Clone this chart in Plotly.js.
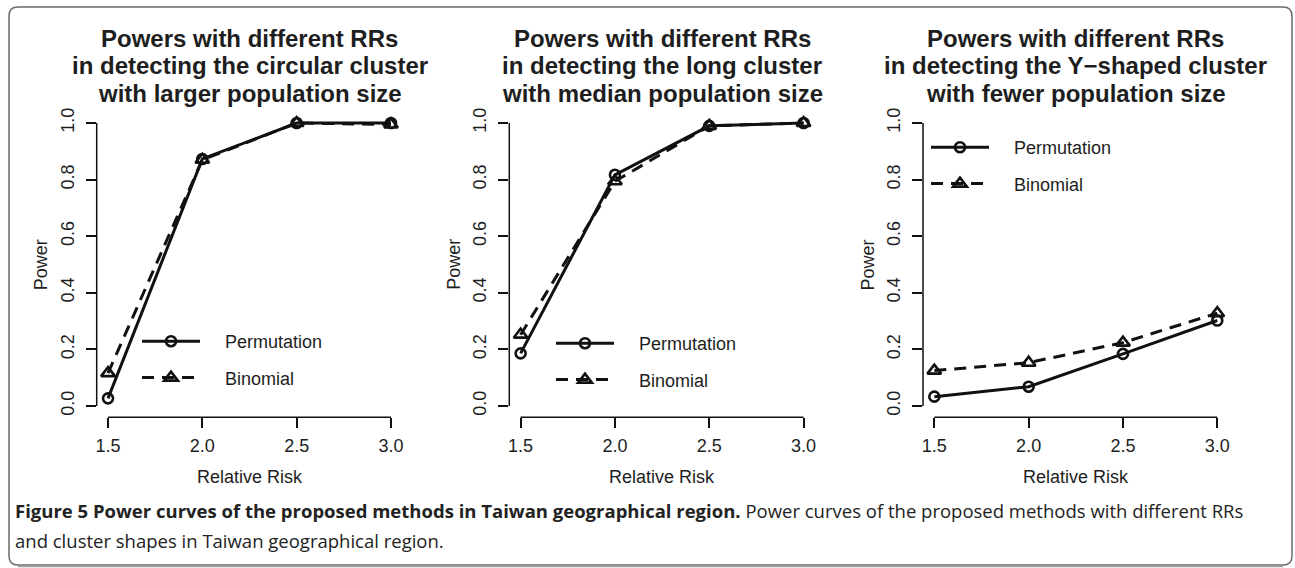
<!DOCTYPE html>
<html>
<head>
<meta charset="utf-8">
<script src="https://cdn.plot.ly/plotly-3.0.1.min.js"></script>
<style>
  html, body { margin: 0; padding: 0; background: #ffffff; }
  #chart { width: 1295px; height: 568px; }
</style>
</head>
<body>
<div id="chart"></div>
<script>
// ---------------- data ----------------
const relativeRisk = [1.5, 2.0, 2.5, 3.0];
const xTickText = ["1.5", "2.0", "2.5", "3.0"];
const yTickVals = [0, 0.2, 0.4, 0.6, 0.8, 1.0];
const yTickText = ["0.0", "0.2", "0.4", "0.6", "0.8", "1.0"];

const seriesNames = ["Permutation", "Binomial"];

const permutationCircular = [0.027, 0.873, 1.0, 1.0];
const binomialCircular    = [0.116, 0.870, 1.0, 0.995];

const permutationLong = [0.186, 0.817, 0.990, 1.0];
const binomialLong    = [0.252, 0.794, 0.990, 1.0];

const permutationYShaped = [0.033, 0.068, 0.184, 0.302];
const binomialYShaped    = [0.125, 0.153, 0.224, 0.328];

const panelTitles = [
  ["Powers with different RRs", "in detecting the circular cluster", "with larger population size"],
  ["Powers with different RRs", "in detecting the long cluster", "with median population size"],
  ["Powers with different RRs", "in detecting the Y\u2212shaped cluster", "with fewer population size"]
];
const xTitle = "Relative Risk";
const yTitle = "Power";
const captionBold = "Figure 5 Power curves of the proposed methods in Taiwan geographical region.";
const captionLine1 = " Power curves of the proposed methods with different RRs";
const captionLine2 = "and cluster shapes in Taiwan geographical region.";

const panelSeries = [
  [permutationCircular, binomialCircular],
  [permutationLong, binomialLong],
  [permutationYShaped, binomialYShaped]
];

// ---------------- layout geometry (pixels) ----------------
const W = 1295, H = 568;
const panelLeft = [96.7, 509.3, 923.0];
const panelWidth = 305.6;
const panelTop = 111.7, panelBottom = 417.3;
const legendPos = [[137, 323], [551, 325], [926, 129]];
const titleLineY = [38, 66, 93];

const px = x => x / W;
const py = y => 1 - y / H;

const FONT = "Liberation Sans, Arial, Helvetica, sans-serif";
const CAPFONT = "Open Sans, Lato, sans-serif";
const INK = "#111111";
const TXT = "#1e1e1e";
const LEGEND_PAD = "\u00A0\u00A0\u00A0\u00A0";

const xMin = relativeRisk[0], xMax = relativeRisk[relativeRisk.length - 1];
const xPad = 0.04 * (xMax - xMin);
const yMin = yTickVals[0], yMax = yTickVals[yTickVals.length - 1];
const yPad = 0.04 * (yMax - yMin);

const traces = [];
const layout = {
  width: W, height: H,
  margin: {l: 0, r: 0, t: 0, b: 0, pad: 0},
  paper_bgcolor: "#ffffff",
  plot_bgcolor: "rgba(0,0,0,0)",
  showlegend: true,
  annotations: [],
  shapes: [],
  font: {family: FONT, color: TXT}
};

for (let i = 0; i < 3; i++) {
  const s = i === 0 ? "" : String(i + 1);
  const xa = "xaxis" + s, ya = "yaxis" + s;
  const xr = "x" + s, yr = "y" + s;
  const lg = "legend" + s;

  layout[xa] = {
    domain: [px(panelLeft[i]), px(panelLeft[i] + panelWidth)],
    range: [xMin - xPad, xMax + xPad],
    anchor: yr,
    tickvals: relativeRisk, ticktext: xTickText,
    ticks: "outside", ticklen: 10, tickwidth: 1.5, tickcolor: INK,
    showline: false, showgrid: false, zeroline: false,
    tickfont: {family: FONT, size: 18, color: TXT},
    ticklabelstandoff: 2,
    fixedrange: true
  };
  layout[ya] = {
    domain: [py(panelBottom), py(panelTop)],
    range: [yMin - yPad, yMax + yPad],
    anchor: xr,
    tickvals: yTickVals, ticktext: yTickText, tickangle: -90,
    ticks: "outside", ticklen: 10, tickwidth: 1.5, tickcolor: INK,
    showline: false, showgrid: false, zeroline: false,
    tickfont: {family: FONT, size: 18, color: TXT},
    ticklabelstandoff: 5,
    fixedrange: true
  };

  // axis lines spanning first..last tick (R style)
  layout.shapes.push({type: "line", xref: xr, yref: yr + " domain",
    x0: xMin, x1: xMax, y0: 0, y1: 0, line: {color: INK, width: 1.5}});
  layout.shapes.push({type: "line", xref: xr + " domain", yref: yr,
    x0: 0, x1: 0, y0: yMin, y1: yMax, line: {color: INK, width: 1.5}});

  // titles
  panelTitles[i].forEach((t, k) => {
    layout.annotations.push({text: "<b>" + t + "</b>", xref: xr, yref: "paper",
      x: (xMin + xMax) / 2, y: py(titleLineY[k]), xanchor: "center", yanchor: "middle",
      showarrow: false, font: {family: FONT, size: 24, color: TXT}});
  });
  // axis titles
  layout.annotations.push({text: xTitle, xref: xr, yref: "paper",
    x: (xMin + xMax) / 2, y: py(477), xanchor: "center", yanchor: "middle",
    showarrow: false, font: {family: FONT, size: 18, color: TXT}});
  layout.annotations.push({text: yTitle, xref: "paper", yref: yr,
    x: px(panelLeft[i] - 56), y: (yMin + yMax) / 2, xanchor: "center", yanchor: "middle",
    textangle: -90, showarrow: false, font: {family: FONT, size: 18, color: TXT}});

  layout[lg] = {
    x: px(legendPos[i][0]), y: py(legendPos[i][1]), xref: "paper", yref: "paper",
    xanchor: "left", yanchor: "top",
    bgcolor: "rgba(0,0,0,0)", borderwidth: 0,
    font: {family: FONT, size: 18, color: TXT},
    itemwidth: 58, traceorder: "grouped", tracegroupgap: 10,
    itemclick: false, itemdoubleclick: false
  };

  const [perm, binom] = panelSeries[i];
  traces.push({
    type: "scatter", mode: "lines+markers", x: relativeRisk, y: perm,
    name: LEGEND_PAD + seriesNames[0], xaxis: xr, yaxis: yr, legend: lg, legendgroup: "p" + i,
    line: {color: INK, width: 3},
    marker: {symbol: "circle-open", size: 10, color: INK, line: {width: 2.6, color: INK}},
    cliponaxis: false, hoverinfo: "x+y"
  });
  traces.push({
    type: "scatter", mode: "lines+markers", x: relativeRisk, y: binom,
    name: LEGEND_PAD + seriesNames[1], xaxis: xr, yaxis: yr, legend: lg, legendgroup: "b" + i,
    line: {color: INK, width: 3, dash: "12px,8px"},
    marker: {symbol: "triangle-up-open", size: 12, color: INK, line: {width: 2.6, color: INK}},
    cliponaxis: false, hoverinfo: "x+y"
  });
}

// caption
layout.annotations.push({
  text: "<b>" + captionBold + "</b>" + captionLine1,
  xref: "paper", yref: "paper", x: px(13), y: py(510), xanchor: "left", yanchor: "middle",
  showarrow: false, align: "left", font: {family: CAPFONT, size: 18.5, color: "#222"}
});
layout.annotations.push({
  text: captionLine2,
  xref: "paper", yref: "paper", x: px(13), y: py(540), xanchor: "left", yanchor: "middle",
  showarrow: false, align: "left", font: {family: CAPFONT, size: 18.5, color: "#222"}
});

// rounded outer frame
(function () {
  const x0 = 9, y0 = 7, x1 = 1292, y1 = 565, r = 9;
  const P = (x, y) => px(x).toFixed(5) + "," + py(y).toFixed(5);
  const path = "M" + P(x0 + r, y0) + " L" + P(x1 - r, y0) + " Q" + P(x1, y0) + " " + P(x1, y0 + r) +
    " L" + P(x1, y1 - r) + " Q" + P(x1, y1) + " " + P(x1 - r, y1) +
    " L" + P(x0 + r, y1) + " Q" + P(x0, y1) + " " + P(x0, y1 - r) +
    " L" + P(x0, y0 + r) + " Q" + P(x0, y0) + " " + P(x0 + r, y0) + " Z";
  layout.shapes.push({type: "path", xref: "paper", yref: "paper", path: path,
    line: {color: "#6a6a6a", width: 1.5}, layer: "below"});
  // soft shadow along the bottom edge
  layout.shapes.push({type: "line", xref: "paper", yref: "paper",
    x0: px(x0 + r), x1: px(x1 - r), y0: py(y1 + 1.5), y1: py(y1 + 1.5),
    line: {color: "#a0a0a0", width: 1.5}, layer: "below"});
})();

Plotly.newPlot("chart", traces, layout, {displayModeBar: false, staticPlot: false});
</script>
</body>
</html>
